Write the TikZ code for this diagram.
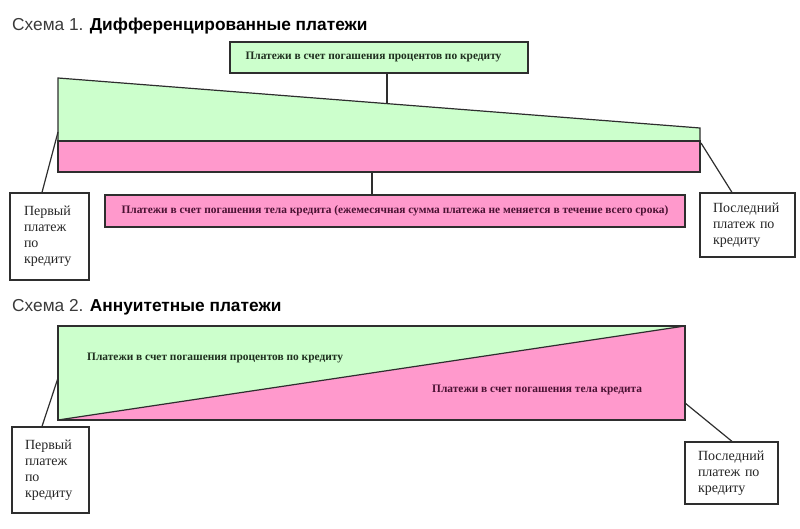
\documentclass[tikz,border=0pt]{standalone}
\usepackage{fontspec}
\setmainfont{Liberation Serif}
\newfontfamily\titlefont{Liberation Sans}
\definecolor{lgreen}{HTML}{CCFFCC}
\definecolor{lpink}{HTML}{FF99CC}
\definecolor{edge}{HTML}{2E2E2E}
\definecolor{gtext}{HTML}{1F2F1F}
\definecolor{ptext}{HTML}{4A1233}
\definecolor{ttext}{HTML}{3A3A3A}
\begin{document}
\begin{tikzpicture}[x=1pt,y=-1pt,
  outline/.style={draw=edge,line width=1.2pt,line join=miter},
  conn/.style={draw=edge,line width=1.2pt},
  title/.style={anchor=base west,inner sep=0pt,font=\titlefont\fontsize{17.3}{20}\selectfont},
  labelbox/.style={draw=edge,line width=1.2pt,inner sep=0pt,font=\fontsize{11.4}{13}\selectfont\bfseries},
  plaintext/.style={anchor=base west,inner sep=0pt,font=\fontsize{11.4}{13}\selectfont\bfseries},
  sidebox/.style={draw=edge,line width=1.2pt,fill=white,inner ysep=0pt,align=left,font=\fontsize{14}{16}\selectfont,text=black!85}
]
\useasboundingbox (0,0) rectangle (800,529);

% ---------- Scheme 1 ----------
\node[title] (t1) at (12,31) {\textcolor{ttext}{Схема 1.} \textbf{Дифференцированные платежи}};

\coordinate (g1tl) at (58,78);
\coordinate (g1tr) at (700,128);
\coordinate (g1bl) at (58,141);
\coordinate (g1br) at (700,141);
\coordinate (p1bl) at (58,172);
\coordinate (p1br) at (700,172);
\fill[lgreen] (g1tl) -- (g1tr) -- (g1br) -- (g1bl) -- cycle;
\fill[lpink] (g1bl) rectangle (p1br);
\draw[outline] (g1bl) -- (g1tl) -- (g1tr) -- (g1br);
\draw[outline] (g1bl) rectangle (p1br);

\node[labelbox,fill=lgreen,text=gtext,minimum width=298pt,minimum height=31pt] (lab1) at (379,57.5)
  {\hspace*{-11pt}Платежи в счет погашения процентов по кредиту};
\coordinate (c1) at (387,103.6);
\draw[conn] (lab1.south -| c1) -- (c1);

\node[labelbox,fill=lpink,text=ptext,minimum width=580pt,minimum height=32pt] (lab2) at (395,211)
  {Платежи в счет погашения тела кредита (ежемесячная сумма платежа не меняется в течение всего срока)};
\coordinate (c2) at (372,172);
\draw[conn] (c2) -- (lab2.north -| c2);

\node[sidebox,inner xsep=14pt,text width=51pt,minimum height=87pt] (first1) at (49.5,236.5)
  {Первый\\платеж\\по\\кредиту};
\coordinate (c3) at (58,132);
\draw[conn] (c3) -- (first1.north -| 42,0);

\node[sidebox,inner xsep=13pt,text width=69pt,minimum height=64pt] (last1) at (747.5,225)
  {Последний\\платеж по\\кредиту};
\coordinate (c4) at (701,143);
\draw[conn] (c4) -- (last1.north -| 732,0);

% ---------- Scheme 2 ----------
\node[title] (t2) at (12,311) {\textcolor{ttext}{Схема 2.} \textbf{Аннуитетные платежи}};

\coordinate (a-tl) at (58,326);
\coordinate (a-tr) at (685,326);
\coordinate (a-bl) at (58,420);
\coordinate (a-br) at (685,420);
\fill[lgreen] (a-tl) -- (a-tr) -- (a-bl) -- cycle;
\fill[lpink] (a-tr) -- (a-br) -- (a-bl) -- cycle;
\draw[outline] (a-tl) rectangle (a-br);
\draw[outline] (a-bl) -- (a-tr);

\node[plaintext,text=gtext] (txt3) at (87,360)
  {Платежи в счет погашения процентов по кредиту};
\node[plaintext,text=ptext] (txt4) at (432,392)
  {Платежи в счет погашения тела кредита};

\node[sidebox,inner xsep=13pt,text width=51pt,minimum height=86pt] (first2) at (50.5,470)
  {Первый\\платеж\\по\\кредиту};
\coordinate (c5) at (58,378);
\draw[conn] (c5) -- (first2.north -| 42,0);

\node[sidebox,inner xsep=13pt,text width=67pt,minimum height=62pt] (last2) at (731.5,473)
  {Последний\\платеж по\\кредиту};
\coordinate (c6) at (685,403);
\draw[conn] (c6) -- (last2.north -| 732,0);
\end{tikzpicture}
\end{document}
